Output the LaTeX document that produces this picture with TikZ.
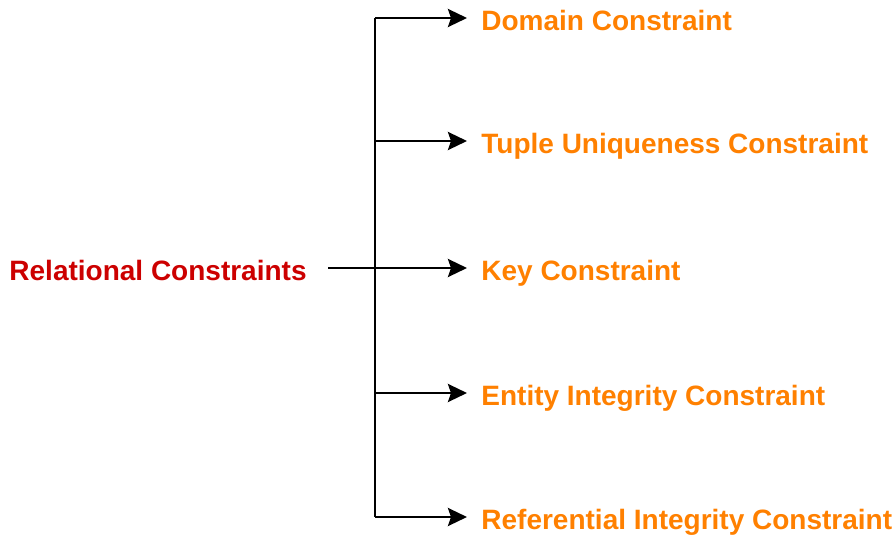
\documentclass[tikz,border=0pt]{standalone}
\usepackage{fontspec}
\setmainfont{Liberation Sans}
\usetikzlibrary{arrows.meta, positioning}
\definecolor{rootred}{RGB}{204,0,0}
\definecolor{leaforange}{RGB}{255,128,0}
\tikzset{
  x=0.5pt, y=-0.5pt, % one unit is one pixel of the drawing
  >={Stealth[length=9.5pt, width=9pt, inset=1.5pt]}, % arrow heads
}

\begin{document}
\begin{tikzpicture}[font=\fontsize{14}{17}\selectfont\bfseries, line width=1.4pt,
  root/.style = {text=rootred, inner sep=10pt, text height=12pt, text depth=0pt},
  leaf/.style = {text=leaforange, anchor=west, inner sep=6.5pt, text height=12pt, text depth=0pt}]

  \useasboundingbox (0,0) rectangle (896,541);

  \node[root, anchor=east] (rel) at (328,268) {Relational Constraints};

  \node[leaf] (domain) at (467,18)  {Domain Constraint};
  \node[leaf] (tuple)  at (467,141) {Tuple Uniqueness Constraint};
  \node[leaf] (key)    at (467,268) {Key Constraint};
  \node[leaf] (entity) at (467,393) {Entity Integrity Constraint};
  \node[leaf] (ref)    at (467,517) {Referential Integrity Constraint};

  \coordinate (trunk) at (375,0);
  \coordinate (trunktop) at (domain.west -| trunk);
  \coordinate (trunkbot) at (ref.west -| trunk);
  \coordinate (tuplejoin) at (tuple.west -| trunk);
  \coordinate (entityjoin) at (entity.west -| trunk);

  % the trunk
  \draw (trunktop) -- (trunkbot);

  % the branches
  \draw[->] (trunktop) -- (domain);
  \draw[->] (tuplejoin) -- (tuple);
  \draw[->] (rel) -- (key);
  \draw[->] (entityjoin) -- (entity);
  \draw[->] (trunkbot) -- (ref);
\end{tikzpicture}
\end{document}
